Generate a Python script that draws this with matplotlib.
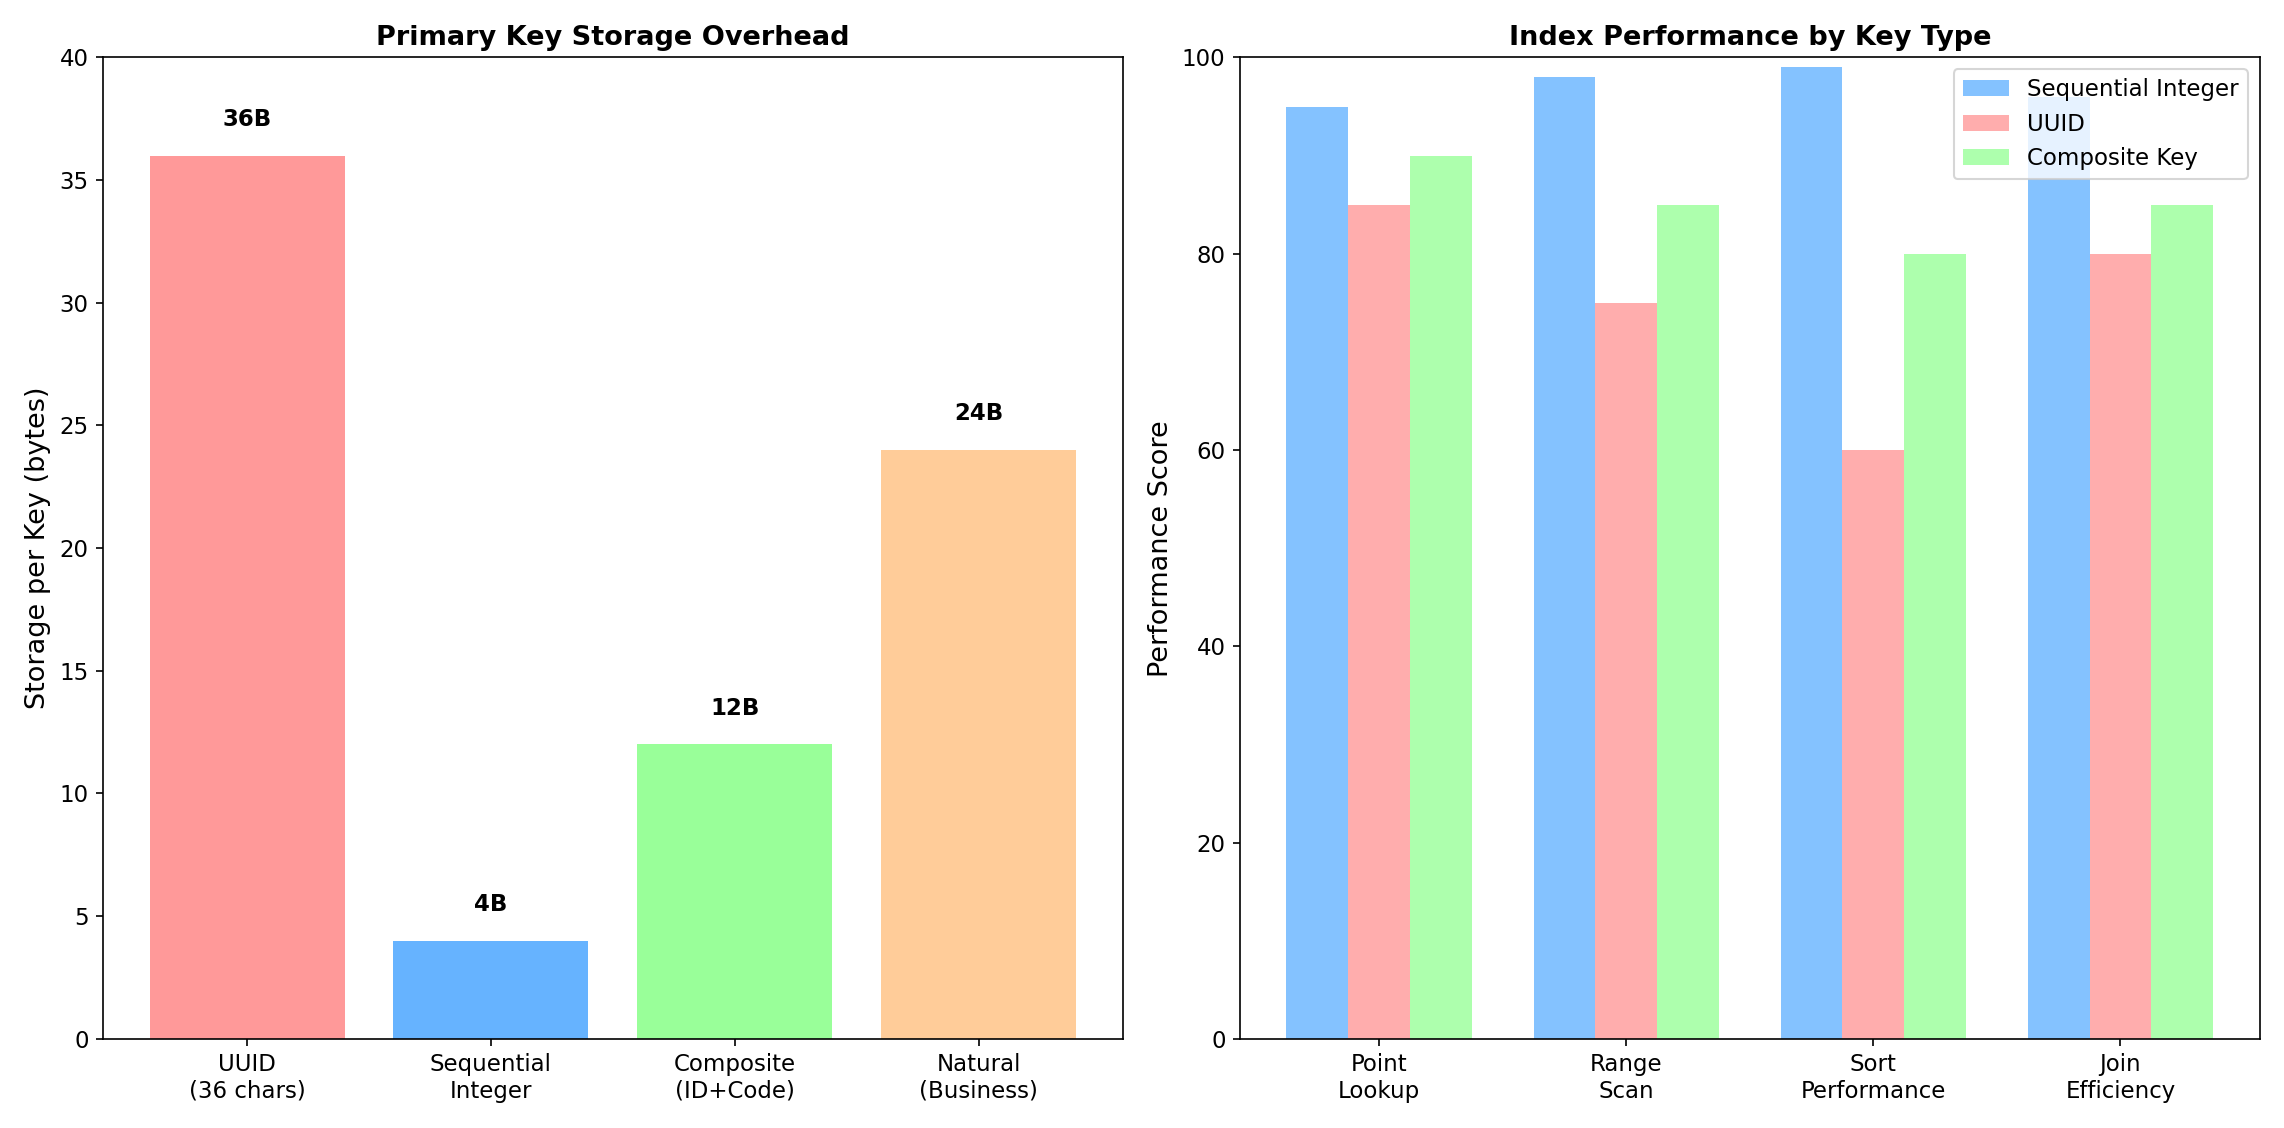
import numpy as np
import matplotlib
matplotlib.use('Agg')
from matplotlib import pyplot as plt

# Storage overhead data
key_types = ['UUID\n(36 chars)', 'Sequential\nInteger', 'Composite\n(ID+Code)', 'Natural\n(Business)']
storage_bytes = [36, 4, 12, 24]
storage_colors = ['#ff9999', '#66b3ff', '#99ff99', '#ffcc99']

# Index performance data
operations = ['Point\nLookup', 'Range\nScan', 'Sort\nPerformance', 'Join\nEfficiency']
seq_scores = [95, 98, 99, 96]
uuid_scores = [85, 75, 60, 80]
composite_scores = [90, 85, 80, 85]

fig, (ax1, ax2) = plt.subplots(1, 2, figsize=(15.23, 7.52), dpi=150)

# Left: storage per key
bars = ax1.bar(key_types, storage_bytes, color=storage_colors)
for bar, val in zip(bars, storage_bytes):
    ax1.text(bar.get_x() + bar.get_width() / 2, val + 1, f'{val}B',
             ha='center', va='bottom', fontweight='bold', fontsize=11)
ax1.set_ylim(0, 40)
ax1.set_ylabel('Storage per Key (bytes)', fontsize=13)
ax1.set_title('Primary Key Storage Overhead', fontsize=13, fontweight='bold')
ax1.tick_params(labelsize=11)

# Right: grouped bars
x = np.arange(len(operations))
w = 0.25
ax2.bar(x - w, seq_scores, w, label='Sequential Integer', color='#66b3ff', alpha=0.8)
ax2.bar(x, uuid_scores, w, label='UUID', color='#ff9999', alpha=0.8)
ax2.bar(x + w, composite_scores, w, label='Composite Key', color='#99ff99', alpha=0.8)
ax2.set_xticks(x)
ax2.set_xticklabels(operations)
ax2.set_ylim(0, 100)
ax2.set_ylabel('Performance Score', fontsize=13)
ax2.set_title('Index Performance by Key Type', fontsize=13, fontweight='bold')
ax2.legend(fontsize=11, loc='upper right')
ax2.tick_params(labelsize=11)

plt.tight_layout(pad=1.2)
plt.savefig('out.png', dpi=150)
